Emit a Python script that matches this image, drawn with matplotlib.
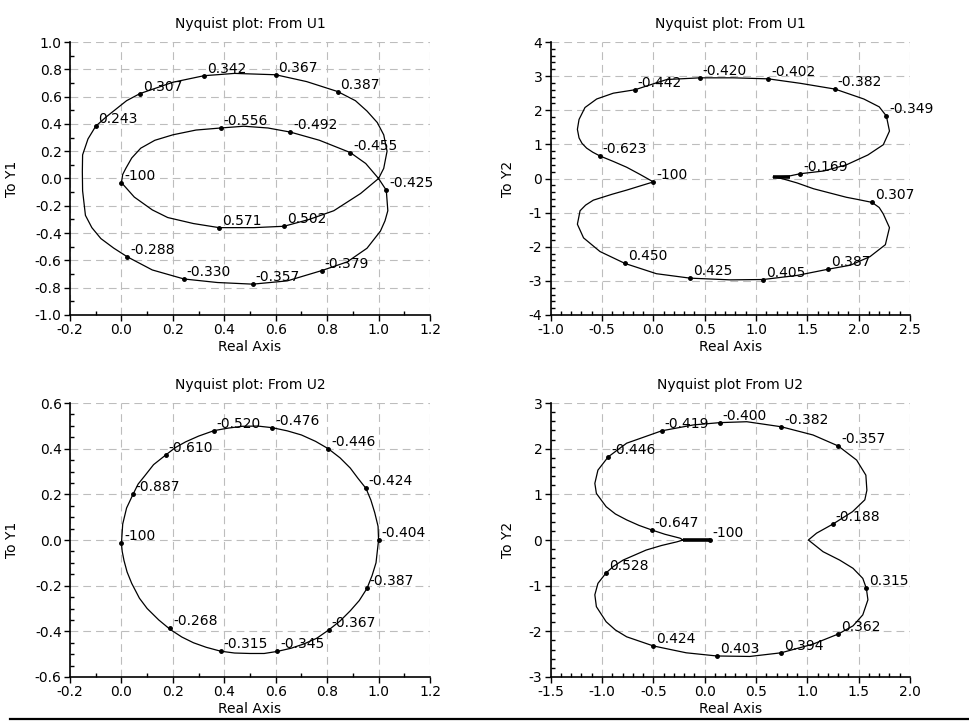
import numpy as np
import matplotlib
matplotlib.use('Agg')
import matplotlib.pyplot as plt
from matplotlib.ticker import MultipleLocator, AutoMinorLocator, FormatStrFormatter
from matplotlib.lines import Line2D

plt.rcParams['font.family'] = ['DejaVu Sans']
plt.rcParams['font.size'] = 10
plt.rcParams['axes.unicode_minus'] = False

# ============================================================
# DATA
# ============================================================

# --- From U1 -> Y1 ---
p1_re = [0.0, 0.005, 0.017, 0.04, 0.075, 0.13, 0.2, 0.29, 0.386, 0.476,
         0.57, 0.657, 0.77, 0.89, 0.95, 1.0, 1.03, 1.036, 1.025, 1.007,
         0.955, 0.878, 0.78, 0.645, 0.511, 0.373, 0.243, 0.12, 0.023, -0.03,
         -0.08, -0.115, -0.14, -0.151, -0.152, -0.151, -0.13, -0.10, -0.06, -0.02,
         0.02, 0.072, 0.2, 0.321, 0.44, 0.6, 0.72, 0.841, 0.91, 0.955,
         0.995, 1.02, 1.033, 1.02, 1.0, 0.93, 0.826, 0.73, 0.632, 0.515,
         0.38, 0.28, 0.18, 0.12, 0.05, 0.0]
p1_im = [-0.03, 0.03, 0.074, 0.15, 0.222, 0.28, 0.32, 0.355, 0.37, 0.383,
         0.37, 0.34, 0.28, 0.19, 0.11, 0.0, -0.086, -0.236, -0.31, -0.386,
         -0.511, -0.611, -0.674, -0.75, -0.774, -0.762, -0.736, -0.67, -0.574, -0.51,
         -0.44, -0.36, -0.27, -0.09, 0.05, 0.173, 0.29, 0.383, 0.45, 0.51,
         0.57, 0.622, 0.705, 0.753, 0.77, 0.76, 0.71, 0.637, 0.57, 0.494,
         0.41, 0.32, 0.2, 0.074, 0.0, -0.11, -0.236, -0.3, -0.35, -0.36,
         -0.36, -0.33, -0.286, -0.23, -0.136, -0.03]
p1_mk_re = [0.0, 0.386, 0.657, 0.89, 1.03, 0.78, 0.511, 0.243, 0.023,
            -0.10, 0.072, 0.321, 0.6, 0.841, 0.632, 0.38]
p1_mk_im = [-0.03, 0.37, 0.34, 0.19, -0.086, -0.674, -0.774, -0.736, -0.574,
            0.383, 0.622, 0.753, 0.76, 0.637, -0.35, -0.36]
p1_labels = ['-100', '-0.556', '-0.492', '-0.455', '-0.425', '-0.379', '-0.357', '-0.330', '-0.288',
             '0.243', '0.307', '0.342', '0.367', '0.387', '0.502', '0.571']

# --- From U1 -> Y2 ---
p2_re = [0.0, -0.13, -0.26, -0.39, -0.52, -0.59, -0.65, -0.695, -0.724, -0.74,
         -0.724, -0.666, -0.552, -0.39, -0.18, 0.13, 0.455, 0.78, 1.12, 1.43,
         1.77, 2.05, 2.20, 2.27, 2.30, 2.24, 2.09, 1.88, 1.66, 1.43,
         1.32, 1.165, 1.25, 1.40, 1.56, 1.88, 2.0, 2.13, 2.2, 2.24,
         2.30, 2.26, 2.11, 1.92, 1.70, 1.40, 1.07, 0.75, 0.357, 0.03,
         -0.276, -0.52, -0.68, -0.74, -0.714, -0.66, -0.585, -0.40, -0.26, -0.12,
         0.0]
p2_im = [-0.1, 0.12, 0.33, 0.5, 0.66, 0.77, 0.89, 1.03, 1.19, 1.44,
         1.73, 2.08, 2.33, 2.5, 2.6, 2.9, 2.95, 2.95, 2.92, 2.79,
         2.62, 2.33, 2.1, 1.83, 1.39, 0.99, 0.69, 0.40, 0.22, 0.14,
         0.07, 0.04, 0.0, -0.13, -0.3, -0.55, -0.62, -0.70, -0.85, -1.04,
         -1.44, -1.94, -2.29, -2.54, -2.66, -2.84, -2.96, -2.97, -2.92, -2.79,
         -2.49, -2.14, -1.74, -1.34, -0.945, -0.78, -0.635, -0.46, -0.34, -0.21,
         -0.1]
p2_tail_re = [1.165, 1.33]
p2_tail_im = [0.04, 0.04]
p2_mk_re = [0.0, -0.52, -0.18, 0.455, 1.12, 1.77, 2.27, 1.43,
            2.13, 1.70, 1.07, 0.357, -0.276]
p2_mk_im = [-0.1, 0.66, 2.6, 2.95, 2.92, 2.62, 1.83, 0.14,
            -0.70, -2.66, -2.96, -2.92, -2.49]
p2_labels = ['-100', '-0.623', '-0.442', '-0.420', '-0.402', '-0.382', '-0.349', '-0.169',
             '0.307', '0.387', '0.405', '0.425', '0.450']

# --- From U2 -> Y1 ---
p3_re = [0.0, 0.005, 0.02, 0.045, 0.065, 0.09, 0.125, 0.172, 0.21, 0.25,
         0.30, 0.36, 0.415, 0.47, 0.53, 0.586, 0.645, 0.70, 0.755, 0.804,
         0.85, 0.89, 0.92, 0.951, 0.97, 0.985, 0.998, 1.0, 0.99, 0.975,
         0.955, 0.925, 0.89, 0.85, 0.806, 0.76, 0.71, 0.66, 0.606, 0.555,
         0.50, 0.44, 0.386, 0.33, 0.28, 0.235, 0.19, 0.145, 0.10, 0.07,
         0.04, 0.022, 0.01, 0.003, 0.0]
p3_im = [-0.015, 0.07, 0.14, 0.2, 0.245, 0.28, 0.33, 0.372, 0.405, 0.43,
         0.455, 0.479, 0.49, 0.498, 0.499, 0.492, 0.478, 0.46, 0.432, 0.40,
         0.36, 0.315, 0.27, 0.226, 0.175, 0.12, 0.06, 0.0, -0.10, -0.155,
         -0.212, -0.265, -0.31, -0.355, -0.394, -0.43, -0.455, -0.474, -0.488, -0.497,
         -0.497, -0.495, -0.487, -0.47, -0.45, -0.425, -0.392, -0.35, -0.30, -0.255,
         -0.19, -0.14, -0.09, -0.05, -0.015]
p3_mk_re = [0.0, 0.045, 0.172, 0.36, 0.586, 0.804, 0.951, 1.0, 0.955, 0.806, 0.606, 0.386, 0.19]
p3_mk_im = [-0.015, 0.2, 0.372, 0.479, 0.489, 0.40, 0.226, 0.0, -0.212, -0.394, -0.485, -0.485, -0.387]
p3_labels = ['-100', '-0.887', '-0.610', '-0.520', '-0.476', '-0.446', '-0.424', '-0.404',
             '-0.387', '-0.367', '-0.345', '-0.315', '-0.268']

# --- From U2 -> Y2 ---
p4_re = [0.05, -0.21, -0.24, -0.387, -0.516, -0.64, -0.76, -0.87, -0.96, -1.055,
         -1.07, -1.04, -0.94, -0.76, -0.42, -0.11, 0.146, 0.41, 0.745, 1.055,
         1.30, 1.48, 1.57, 1.58, 1.56, 1.44, 1.25, 1.09, 1.01, 1.153,
         1.315, 1.445, 1.54, 1.575, 1.59, 1.54, 1.445, 1.30, 1.055, 0.745,
         0.44, 0.12, -0.18, -0.50, -0.76, -0.87, -0.96, -1.055, -1.07, -1.04,
         -0.96, -0.89, -0.795, -0.57, -0.42, -0.27, -0.21, 0.05]
p4_im = [0.0, 0.0, 0.04, 0.125, 0.22, 0.32, 0.44, 0.57, 0.73, 1.02,
         1.24, 1.53, 1.82, 2.12, 2.39, 2.52, 2.57, 2.59, 2.48, 2.30,
         2.06, 1.75, 1.42, 1.09, 0.88, 0.62, 0.35, 0.15, 0.0, -0.256,
         -0.44, -0.62, -0.84, -1.06, -1.31, -1.64, -1.88, -2.06, -2.28, -2.47,
         -2.55, -2.54, -2.47, -2.32, -2.12, -1.97, -1.79, -1.46, -1.20, -0.95,
         -0.72, -0.58, -0.44, -0.22, -0.12, -0.04, 0.0, 0.0]
p4_tail_re = [-0.21, 0.05]
p4_tail_im = [0.0, 0.0]
p4_mk_re = [0.05, -0.516, -0.94, -0.42, 0.146, 0.745, 1.30, 1.25,
            1.575, 1.30, 0.745, 0.12, -0.50, -0.96]
p4_mk_im = [0.0, 0.22, 1.82, 2.39, 2.57, 2.48, 2.06, 0.35,
            -1.06, -2.06, -2.47, -2.54, -2.32, -0.72]
p4_labels = ['-100', '-0.647', '-0.446', '-0.419', '-0.400', '-0.382', '-0.357', '-0.188',
             '0.315', '0.362', '0.394', '0.403', '0.424', '0.528']

# ============================================================
# FIGURE
# ============================================================

W, H = 969, 724
fig = plt.figure(figsize=(W / 100, H / 100), dpi=100)

def px_axes(left, top, right, bottom):
    return fig.add_axes([left / W, 1 - bottom / H, (right - left) / W, (bottom - top) / H])

def draw_panel(ax, re, im, mk_re, mk_im, labels, xlim, ylim, xstep, ystep,
               xminor, yminor, xfmt, yfmt, title, ylabel, ylab_x, tail=None):
    ax.plot(re, im, color='black', lw=0.9, zorder=3)
    if tail is not None:
        ax.plot(tail[0], tail[1], color='black', lw=2.6, solid_capstyle='butt', zorder=3)
    ax.plot(mk_re, mk_im, ls='none', marker='o', ms=2.5, color='black', zorder=4)
    for x, y, s in zip(mk_re, mk_im, labels):
        ax.annotate(s, (x, y), xytext=(2, 0), textcoords='offset points',
                    ha='left', va='bottom', fontsize=10, zorder=5)

    ax.set_xlim(*xlim)
    ax.set_ylim(*ylim)
    ax.xaxis.set_major_locator(MultipleLocator(xstep))
    ax.yaxis.set_major_locator(MultipleLocator(ystep))
    ax.xaxis.set_minor_locator(AutoMinorLocator(xminor))
    ax.yaxis.set_minor_locator(AutoMinorLocator(yminor))
    ax.xaxis.set_major_formatter(FormatStrFormatter(xfmt))
    ax.yaxis.set_major_formatter(FormatStrFormatter(yfmt))

    for side in ['top', 'right']:
        ax.spines[side].set_visible(False)
    for side in ['left', 'bottom']:
        ax.spines[side].set_linewidth(1.2)
        ax.spines[side].set_zorder(6)

    ax.tick_params(which='major', direction='out', length=4, width=1.0, pad=2, labelsize=10)
    ax.tick_params(which='minor', direction='in', length=3, width=1.0)
    ax.grid(True, which='major', color='#bdbdbd', lw=0.8, ls=(0, (7, 4.5)))
    ax.set_axisbelow(True)

    ax.set_title(title, fontsize=10, pad=10)
    ax.set_xlabel('Real Axis', fontsize=10, labelpad=2)
    ax.set_ylabel(ylabel, fontsize=10)
    ax.yaxis.set_label_coords(ylab_x, 0.5)

ax1 = px_axes(70, 42, 430, 315)
draw_panel(ax1, p1_re, p1_im, p1_mk_re, p1_mk_im, p1_labels,
           (-0.2, 1.2), (-1.0, 1.0), 0.2, 0.2, 2, 2, '%.1f', '%.1f',
           'Nyquist plot: From U1', 'To Y1', -0.142)

ax2 = px_axes(550.7, 42, 910, 315)
draw_panel(ax2, p2_re, p2_im, p2_mk_re, p2_mk_im, p2_labels,
           (-1.0, 2.5), (-4, 4), 0.5, 1, 5, 5, '%.1f', '%d',
           'Nyquist plot: From U1', 'To Y2', -0.099, tail=(p2_tail_re, p2_tail_im))

ax3 = px_axes(70, 403, 430, 677)
draw_panel(ax3, p3_re, p3_im, p3_mk_re, p3_mk_im, p3_labels,
           (-0.2, 1.2), (-0.6, 0.6), 0.2, 0.2, 2, 4, '%.1f', '%.1f',
           'Nyquist plot: From U2', 'To Y1', -0.142)

ax4 = px_axes(550.7, 403, 910, 677)
draw_panel(ax4, p4_re, p4_im, p4_mk_re, p4_mk_im, p4_labels,
           (-1.5, 2.0), (-3, 3), 0.5, 1, 5, 5, '%.1f', '%d',
           'Nyquist plot From U2', 'To Y2', -0.099, tail=(p4_tail_re, p4_tail_im))

# black rule along the bottom edge
fig.add_artist(Line2D([10 / W, 1.0], [1 - 719 / H, 1 - 719 / H],
                      transform=fig.transFigure, color='black', lw=1.6))

fig.savefig('out.png', dpi=100, facecolor='white')
